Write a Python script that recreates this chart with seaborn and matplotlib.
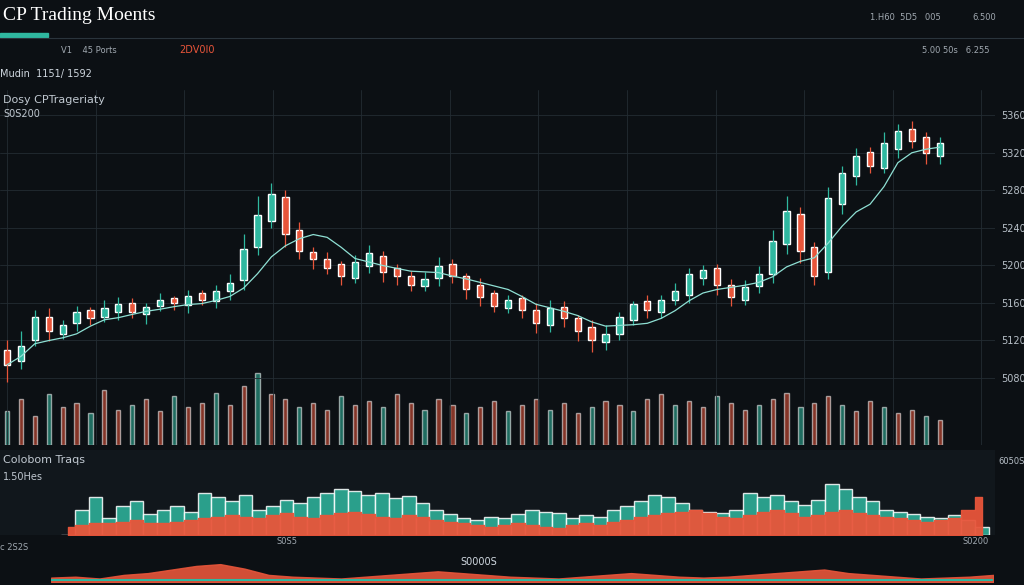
import matplotlib
matplotlib.use("Agg")
import matplotlib.pyplot as plt
import seaborn as sns
import numpy as np
import pandas as pd

sns.set_theme(style="dark")
plt.rcParams['font.family'] = ['DejaVu Sans']

closes = [195,215,250,235,240,255,250,260,265,258,262,270,268,275,272,280,290,330,370,395,350,330,320,310,300,315,325,305,300,290,
          295,310,300,285,275,265,270,260,245,260,250,235,225,230,250,265,260,270,280,300,305,290,275,285,300,340,375,330,300,390,
          420,440,430,455,470,460,445,455]
opens  = [210,200,225,250,232,245,258,252,258,266,255,265,272,266,278,270,282,295,335,365,392,352,326,318,312,298,312,322,308,298,
          288,298,312,298,288,278,262,272,258,242,262,248,238,222,232,248,268,258,272,278,298,308,288,272,288,302,338,372,332,305,
          385,418,445,428,450,472,462,442]
wick_up = [15,20,10,12,8,10,6,12,10,8,6,10,5,8,6,10,12,20,25,15,10,12,8,10,6,10,12,8,6,8,
           10,12,8,6,10,5,8,6,10,12,8,6,10,12,8,6,10,8,12,10,8,6,8,10,12,15,20,10,8,15,
           10,12,8,15,10,12,8,10]
wick_dn = [20,10,8,12,6,10,8,6,10,8,12,6,8,10,6,8,10,12,10,8,15,10,12,8,10,6,8,12,10,8,
           6,10,8,12,10,8,6,10,12,8,10,12,15,10,8,6,10,8,6,10,8,12,10,6,8,10,12,15,10,8,
           12,10,8,6,10,8,12,10]
volume = [40,55,35,60,45,50,38,65,42,48,55,40,58,45,50,62,48,70,85,60,55,45,50,42,58,48,52,45,60,50,
          42,55,48,38,45,52,40,48,55,42,50,38,45,52,48,40,55,60,48,52,45,58,50,42,48,55,62,45,50,58,
          48,40,52,45,38,42,35,30]
flow_bar = [0,30,45,20,35,40,25,30,35,28,50,45,40,48,30,35,42,38,45,50,55,52,48,50,44,46,38,30,25,20,
            18,22,20,25,30,28,26,20,24,22,30,35,40,48,45,38,30,28,26,30,50,45,48,40,36,42,60,55,45,40,
            30,28,25,22,20,24,18,10]
flow_area = [10,12,15,14,16,18,15,14,16,18,20,22,24,22,20,24,26,22,20,24,26,28,25,22,20,24,22,18,16,14,
             12,10,12,14,12,10,8,12,14,12,16,18,22,24,26,28,30,26,22,20,24,28,30,26,22,24,28,30,26,24,
             22,20,18,16,18,20,30,45]
strip = [5,6,4,8,10,14,18,20,15,8,6,5,4,6,8,10,12,10,8,6,5,4,6,8,10,8,6,5,6,8,10,12,14,10,8,6,4,5,6,8]
right_labels = ['5360','5320','5280','5240','5200','5160','5120','5080']

bg = '#0c1014'
teal = '#2fb8a0'
red = '#e8553a'
fig = plt.figure(figsize=(10.24, 5.85), dpi=100, facecolor=bg)

x = np.arange(len(closes))
df = pd.DataFrame({'x': x, 'open': opens, 'close': closes})
df['hi'] = df[['open', 'close']].max(axis=1) + np.array(wick_up)
df['lo'] = df[['open', 'close']].min(axis=1) - np.array(wick_dn)
df['ma'] = df['close'].rolling(6, min_periods=1).mean()

ax = fig.add_axes([0.0, 0.239, 0.972, 0.607])
axv = ax.twinx()
colors = [teal if c >= o else red for o, c in zip(opens, closes)]
vcol = [red if i % 3 else teal for i in range(len(volume))]
axv.bar(x, volume, width=0.3, color=vcol, alpha=0.55)
axv.set_ylim(0, 420)
axv.set_yticks([])
for s in axv.spines.values():
    s.set_visible(False)
axv.set_zorder(0)
ax.set_zorder(1)
ax.patch.set_visible(False)
axv.set_facecolor('#11171c')
for i, r in df.iterrows():
    c = colors[i]
    ax.vlines(r.x, r.lo, r.hi, color=c, lw=0.9)
    ax.bar(r.x, abs(r.close - r.open) + 2, bottom=min(r.open, r.close), width=0.45, color=c)
sns.lineplot(data=df, x='x', y='ma', ax=ax, color='#8fe0d4', lw=0.9)
ax.set_xlim(-0.5, 71)
ax.set_ylim(100, 520)
axv.set_xlim(-0.5, 71)
ax.set_xlabel(''); ax.set_ylabel('')
ax.set_xticks(np.linspace(0, 70, 12))
ax.set_xticklabels([])
yt = np.linspace(490, 180, len(right_labels))
ax.yaxis.tick_right()
ax.set_yticks(yt)
ax.set_yticklabels(right_labels, color='#b8c0c8', fontsize=7)
ax.grid(True, color='#232c33', lw=0.6)
for s in ax.spines.values():
    s.set_visible(False)
ax.tick_params(length=0, pad=4)
ax.text(0.003, 0.965, 'Dosy CPTrageriaty', transform=ax.transAxes, color='#c0c8d0', fontsize=8)
ax.text(0.003, 0.925, 'S0S200', transform=ax.transAxes, color='#c0c8d0', fontsize=7)

ax2 = fig.add_axes([0.0, 0.085, 0.972, 0.145], facecolor='#11171c')
ax2.bar(x, flow_bar, width=1.0, color=teal, alpha=0.85)
ax2.fill_between(x, flow_area, color=red, alpha=0.95, step='mid')
ax2.set_xlim(-5, 68)
ax2.set_ylim(0, 100)
ax2.set_xticks([]); ax2.yaxis.tick_right()
ax2.set_yticks([88]); ax2.set_yticklabels(['6050S'], color='#b8c0c8', fontsize=6)
ax2.tick_params(length=0, pad=2)
for s in ax2.spines.values():
    s.set_visible(False)
ax2.text(0.003, 0.85, 'Colobom Traqs', transform=ax2.transAxes, color='#c0c8d0', fontsize=8)
ax2.text(0.003, 0.65, '1.50Hes', transform=ax2.transAxes, color='#c0c8d0', fontsize=7)

ax3 = fig.add_axes([0.05, 0.005, 0.92, 0.046], facecolor=bg)
sx = np.arange(len(strip))
ax3.fill_between(sx, strip, color=red, alpha=0.9)
ax3.axhline(2, color=teal, lw=1.5)
ax3.set_xlim(0, len(strip) - 1); ax3.set_ylim(0, 30)
ax3.axis('off')

fig.text(0.003, 0.965, 'CP Trading Moents', color='white', fontsize=14, family='Liberation Serif')
fig.patches.append(plt.Rectangle((0, 0.937), 0.047, 0.006, transform=fig.transFigure, color=teal))
fig.lines.append(plt.Line2D([0, 1], [0.935, 0.935], transform=fig.transFigure, color='#2a343c', lw=0.8))
fig.text(0.06, 0.91, 'V1    45 Ports', color='#a0a8b0', fontsize=6)
fig.text(0.175, 0.91, '2DV0I0', color=red, fontsize=7)
fig.text(0.85, 0.965, '1.H60  5D5   005', color='#a0a8b0', fontsize=6)
fig.text(0.95, 0.965, '6.500', color='#a0a8b0', fontsize=6)
fig.text(0.90, 0.91, '5.00 50s   6.255', color='#a0a8b0', fontsize=6)
fig.text(0.0, 0.868, 'Mudin  1151/ 1592', color='#d0d8e0', fontsize=7)
fig.text(0.0, 0.06, 'c 2S2S', color='#a0a8b0', fontsize=6)
fig.text(0.27, 0.07, 'S0S5', color='#a0a8b0', fontsize=6)
fig.text(0.45, 0.035, 'S0000S', color='#d0d8e0', fontsize=7)
fig.text(0.94, 0.07, 'S0200', color='#a0a8b0', fontsize=6)
fig.savefig('out.png', dpi=100, facecolor=bg)
